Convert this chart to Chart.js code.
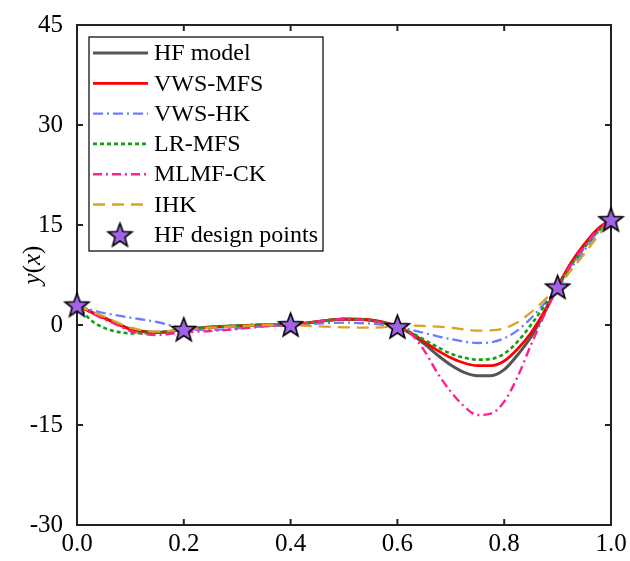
<!DOCTYPE html>
<html>
<head>
<meta charset="utf-8">
<script src="https://cdn.jsdelivr.net/npm/chart.js@4.4.1/dist/chart.umd.min.js"></script>
<style>
body { margin: 0; background: #fff; }
</style>
</head>
<body>
<canvas id="curve-chart" width="630" height="561"></canvas>
<script>
// x positions shared by all model curves
const xGrid = [0, 0.025, 0.05, 0.075, 0.1, 0.15, 0.2, 0.25, 0.3, 0.35, 0.4, 0.45, 0.5, 0.55, 0.6,
    0.625, 0.65, 0.675, 0.7, 0.725, 0.75, 0.775, 0.8, 0.825, 0.85, 0.875, 0.9, 0.925, 0.95, 0.975, 1.0];

const hfModel = [3.0, 2.0, 1.1, 0.2, -0.6, -1.1, -0.7, -0.3, -0.15, 0.0, 0.05, 0.5, 0.85, 0.7, -0.25,
    -1.3, -2.8, -4.5, -6.0, -7.1, -7.6, -7.6, -6.7, -4.5, -1.8, 1.8, 5.7, 9.2, 12.0, 14.3, 15.8];
const vwsMfs = [3.0, 2.0, 1.1, 0.2, -0.6, -1.15, -0.7, -0.35, -0.15, 0.0, 0.05, 0.5, 0.9, 0.75, -0.25,
    -1.2, -2.5, -3.8, -4.9, -5.7, -6.1, -6.1, -5.4, -3.6, -1.2, 2.0, 5.7, 9.3, 12.1, 14.4, 15.8];
const vwsHk = [3.0, 2.3, 1.8, 1.45, 1.1, 0.45, -0.5, -0.75, -0.5, -0.2, 0.05, 0.2, 0.35, 0.2, -0.25,
    -0.7, -1.2, -1.7, -2.1, -2.5, -2.7, -2.6, -2.0, -0.8, 1.0, 3.2, 5.5, 8.5, 11.2, 13.8, 15.8];
const lrMfs = [3.0, 0.8, -0.4, -1.0, -1.25, -1.15, -0.7, -0.3, -0.1, 0.05, 0.05, 0.5, 0.9, 0.7, -0.25,
    -1.1, -2.2, -3.3, -4.3, -4.9, -5.2, -5.1, -4.3, -2.5, 0.0, 2.8, 5.6, 8.9, 11.6, 14.0, 15.8];
const mlmfCk = [3.0, 1.9, 0.9, 0.0, -0.9, -1.5, -1.1, -0.9, -0.6, -0.2, 0.0, 0.5, 0.9, 0.6, -0.25,
    -1.3, -3.8, -7.2, -10.0, -12.2, -13.5, -13.3, -11.5, -7.8, -3.0, 1.5, 5.7, 9.0, 11.8, 14.2, 15.8];
const ihk = [3.0, 2.1, 1.3, 0.4, -0.4, -1.0, -0.65, -0.4, -0.2, 0.0, 0.0, -0.2, -0.35, -0.4, -0.2,
    -0.1, -0.15, -0.25, -0.4, -0.65, -0.85, -0.8, -0.5, 0.4, 1.9, 3.7, 5.7, 8.2, 10.7, 13.3, 15.8];

// HF design points
const designX = [0.0, 0.2, 0.4, 0.6, 0.9, 1.0];
const designY = [3.0, -0.65, 0.05, -0.25, 5.7, 15.8];

const xTicks = [0, 0.2, 0.4, 0.6, 0.8, 1.0];
const yTicks = [-30, -15, 0, 15, 30, 45];

const serif = '"Liberation Serif", "Times New Roman", serif';

function toPoints(xs, ys) {
    return xs.map((x, i) => ({ x: x, y: ys[i] }));
}

// filled pentagram used as marker
function makeStar(r) {
    const c = document.createElement('canvas');
    const s = Math.ceil(r * 2 + 4);
    c.width = s;
    c.height = s;
    const g = c.getContext('2d');
    g.translate(s / 2, s / 2 + r * 0.08);
    g.beginPath();
    for (let i = 0; i < 10; i++) {
        const rad = i % 2 === 0 ? r : r * 0.42;
        const a = -Math.PI / 2 + i * Math.PI / 5;
        g.lineTo(rad * Math.cos(a), rad * Math.sin(a));
    }
    g.closePath();
    g.fillStyle = '#a264e6';
    g.fill();
    g.lineWidth = 1.6;
    g.lineJoin = 'miter';
    g.strokeStyle = '#000';
    g.stroke();
    return c;
}
const starImg = makeStar(12.5);

function curve(label, ys, color, width, dash, order) {
    return {
        label: label,
        data: toPoints(xGrid, ys),
        borderColor: color,
        backgroundColor: color,
        borderWidth: width,
        borderDash: dash,
        pointRadius: 0,
        showLine: true,
        cubicInterpolationMode: 'monotone',
        fill: false,
        order: order
    };
}

const datasets = [
    curve('HF model', hfModel, '#555555', 3, [], 6),
    curve('VWS-MFS', vwsMfs, '#ff0000', 2.8, [], 5),
    curve('VWS-HK', vwsHk, '#6b7dff', 2.3, [10, 4, 2, 4], 4),
    curve('LR-MFS', lrMfs, '#12a012', 2.6, [4, 3], 3),
    curve('MLMF-CK', mlmfCk, '#ff2090', 2.4, [9, 4, 2, 4], 2),
    curve('IHK', ihk, '#d8a520', 2.3, [12, 7], 1),
    {
        label: 'HF design points',
        data: toPoints(designX, designY),
        showLine: false,
        pointStyle: starImg,
        pointRadius: 12,
        pointHoverRadius: 12,
        clip: false,
        order: 0
    }
];

const framePlugin = {
    id: 'frame',
    beforeDatasetsDraw(chart) {
        const { ctx, chartArea: a, scales } = chart;
        ctx.save();
        // box and inward ticks on all four sides
        ctx.strokeStyle = '#222';
        ctx.lineWidth = 2;
        ctx.strokeRect(a.left, a.top, a.right - a.left, a.bottom - a.top);
        ctx.beginPath();
        xTicks.forEach(v => {
            const px = scales.x.getPixelForValue(v);
            ctx.moveTo(px, a.bottom); ctx.lineTo(px, a.bottom - 6);
            ctx.moveTo(px, a.top); ctx.lineTo(px, a.top + 6);
        });
        yTicks.forEach(v => {
            const py = scales.y.getPixelForValue(v);
            ctx.moveTo(a.left, py); ctx.lineTo(a.left + 6, py);
            ctx.moveTo(a.right, py); ctx.lineTo(a.right - 6, py);
        });
        ctx.stroke();

        // y axis title y(x)
        ctx.translate(33, (a.top + a.bottom) / 2 - 10);
        ctx.rotate(-Math.PI / 2);
        ctx.fillStyle = '#000';
        ctx.textBaseline = 'middle';
        const parts = [['y', 'italic'], ['(', 'normal'], ['x', 'italic'], [')', 'normal']];
        let total = 0;
        parts.forEach(p => { ctx.font = p[1] + ' 25px ' + serif; total += ctx.measureText(p[0]).width; });
        let tx = -total / 2;
        parts.forEach(p => {
            ctx.font = p[1] + ' 25px ' + serif;
            ctx.fillText(p[0], tx, 0);
            tx += ctx.measureText(p[0]).width;
        });
        ctx.restore();
    },
    afterDraw(chart) {
        const { ctx } = chart;
        ctx.save();
        // legend box
        const lx = 89, ly = 37, lw = 234, lh = 214;
        ctx.fillStyle = '#fff';
        ctx.fillRect(lx, ly, lw, lh);
        ctx.lineWidth = 1.3;
        ctx.strokeStyle = '#111';
        ctx.strokeRect(lx, ly, lw, lh);
        ctx.font = '24px ' + serif;
        ctx.textBaseline = 'middle';
        chart.data.datasets.forEach((ds, i) => {
            const y = 53 + i * 30.3;
            if (ds.showLine) {
                ctx.save();
                ctx.strokeStyle = ds.borderColor;
                ctx.lineWidth = ds.borderWidth;
                ctx.setLineDash(ds.borderDash);
                ctx.beginPath();
                ctx.moveTo(93, y);
                ctx.lineTo(148, y);
                ctx.stroke();
                ctx.restore();
            } else {
                ctx.drawImage(starImg, 120 - starImg.width / 2, y - starImg.height / 2);
            }
            ctx.fillStyle = '#000';
            ctx.fillText(ds.label, 154, y + 1);
        });
        ctx.restore();
    }
};

const ctx = document.getElementById('curve-chart').getContext('2d');

const config = {
    type: 'scatter',
    data: { datasets: datasets },
    options: {
        responsive: false,
        animation: false,
        devicePixelRatio: 1,
        layout: { padding: { top: 25, right: 19, left: 0, bottom: 0 } },
        plugins: {
            legend: { display: false },
            tooltip: { enabled: false }
        },
        scales: {
            x: {
                type: 'linear',
                min: 0,
                max: 1,
                afterBuildTicks: s => { s.ticks = xTicks.map(v => ({ value: v })); },
                afterFit: s => { s.height = 36; s.paddingLeft = 0; s.paddingRight = 0; },
                grid: { display: false, drawTicks: false },
                border: { display: false },
                ticks: {
                    color: '#000',
                    padding: 4,
                    maxRotation: 0,
                    font: { family: serif, size: 25 },
                    callback: v => v.toFixed(1)
                }
            },
            y: {
                type: 'linear',
                min: -30,
                max: 45,
                afterBuildTicks: s => { s.ticks = yTicks.map(v => ({ value: v })); },
                afterFit: s => { s.width = 77; s.paddingTop = 0; s.paddingBottom = 0; },
                grid: { display: false, drawTicks: false },
                border: { display: false },
                ticks: {
                    color: '#000',
                    padding: 14,
                    font: { family: serif, size: 25 }
                }
            }
        }
    },
    plugins: [framePlugin]
};

const curveChart = new Chart(ctx, config);
</script>
</body>
</html>
